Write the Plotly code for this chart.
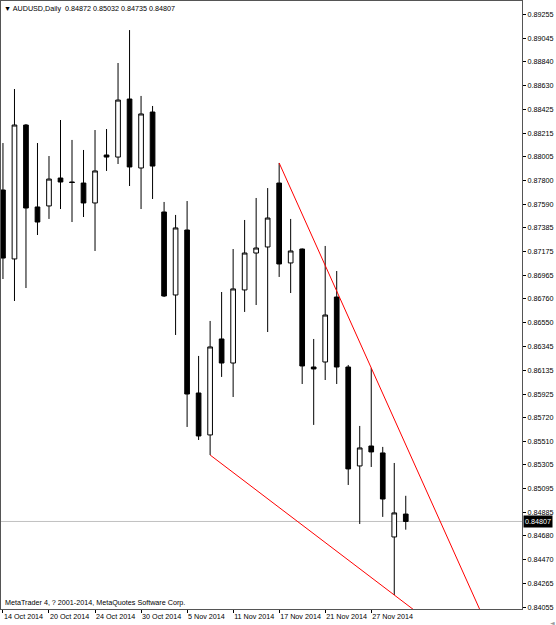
import numpy as np
import plotly.graph_objects as go

# AUDUSD daily bars, 14 Oct 2014 - 2 Dec 2014
dates = ["14 Oct 2014", "15 Oct 2014", "16 Oct 2014", "17 Oct 2014", "20 Oct 2014",
         "21 Oct 2014", "22 Oct 2014", "23 Oct 2014", "24 Oct 2014", "27 Oct 2014",
         "28 Oct 2014", "29 Oct 2014", "30 Oct 2014", "31 Oct 2014", "3 Nov 2014",
         "4 Nov 2014", "5 Nov 2014", "6 Nov 2014", "7 Nov 2014", "10 Nov 2014",
         "11 Nov 2014", "12 Nov 2014", "13 Nov 2014", "14 Nov 2014", "17 Nov 2014",
         "18 Nov 2014", "19 Nov 2014", "20 Nov 2014", "21 Nov 2014", "24 Nov 2014",
         "25 Nov 2014", "26 Nov 2014", "27 Nov 2014", "28 Nov 2014", "1 Dec 2014",
         "2 Dec 2014"]

opens = [0.87715, 0.87110, 0.88285, 0.87566, 0.87575, 0.87820, 0.87785, 0.87776,
         0.87601, 0.88022, 0.88004, 0.88513, 0.87908, 0.88399, 0.87522, 0.86794,
         0.87364, 0.85934, 0.85566, 0.86408, 0.86197, 0.86838, 0.87162, 0.87215,
         0.87776, 0.87075, 0.87197, 0.86162, 0.86206, 0.86776, 0.86162, 0.85294,
         0.85469, 0.85408, 0.84671, 0.84872]
highs = [0.88127, 0.88601, 0.88294, 0.88127, 0.88013, 0.88329, 0.88154, 0.88066,
         0.88241, 0.88250, 0.88829, 0.89118, 0.88540, 0.88452, 0.87610, 0.87496,
         0.87618, 0.86259, 0.86566, 0.86820, 0.87197, 0.87452, 0.87645, 0.87732,
         0.87952, 0.87461, 0.87202, 0.86408, 0.87224, 0.87004, 0.86180, 0.85645,
         0.86154, 0.85461, 0.85320, 0.85032]
lows = [0.86934, 0.86741, 0.86855, 0.87320, 0.87461, 0.87548, 0.87434, 0.87478,
        0.87180, 0.87882, 0.87943, 0.87750, 0.87548, 0.87636, 0.86776, 0.86443,
        0.85636, 0.85522, 0.85390, 0.86075, 0.85899, 0.86645, 0.86706, 0.86469,
        0.86952, 0.86811, 0.86013, 0.85654, 0.86048, 0.86013, 0.85127, 0.84785,
        0.85285, 0.84847, 0.84162, 0.84735]
closes = [0.87118, 0.88285, 0.87557, 0.87434, 0.87811, 0.87785, 0.87781, 0.87601,
          0.87882, 0.88004, 0.88504, 0.87917, 0.88382, 0.87925, 0.86785, 0.87382,
          0.85925, 0.85557, 0.86338, 0.86197, 0.86847, 0.87162, 0.87206, 0.87469,
          0.87066, 0.87180, 0.86171, 0.86145, 0.86618, 0.86162, 0.85268, 0.85452,
          0.85417, 0.85004, 0.84882, 0.84807]

# trend lines: anchor bars (index) and prices, drawn as rays
upper_anchor_x = [24, 32]
upper_anchor_y = [0.87952, 0.86154]
lower_anchor_x = [18, 34]
lower_anchor_y = [0.85390, 0.84162]

price_ticks = [0.89255, 0.89045, 0.88840, 0.88630, 0.88425, 0.88215, 0.88005,
               0.87800, 0.87590, 0.87385, 0.87175, 0.86965, 0.86760, 0.86550,
               0.86345, 0.86135, 0.85925, 0.85720, 0.85510, 0.85305, 0.85095,
               0.84885, 0.84680, 0.84470, 0.84265, 0.84055]
date_tick_idx = [0, 4, 8, 12, 16, 20, 24, 28, 32]

last_price = closes[-1]
FONT = "Liberation Sans"
FS = 7.2

idx = list(range(len(dates)))


def ray(ax, ay, x_end):
    """두 점을 지나는 반직선"""
    slope = (ay[1] - ay[0]) / (ax[1] - ax[0])
    return [ax[0], x_end], [ay[0], ay[0] + slope * (x_end - ax[0])]


fig = go.Figure()

fig.add_trace(go.Candlestick(
    x=idx, open=opens, high=highs, low=lows, close=closes,
    increasing=dict(fillcolor="white", line=dict(color="black", width=1)),
    decreasing=dict(fillcolor="black", line=dict(color="black", width=1)),
    whiskerwidth=0,
    showlegend=False,
    hoverinfo="skip",
))

for ax, ay in [(upper_anchor_x, upper_anchor_y), (lower_anchor_x, lower_anchor_y)]:
    rx, ry = ray(ax, ay, 48)
    fig.add_trace(go.Scatter(x=rx, y=ry, mode="lines",
                             line=dict(color="#ff0000", width=1),
                             showlegend=False, hoverinfo="skip"))

# current price line
fig.add_shape(type="line", xref="paper", x0=0, x1=1, y0=last_price, y1=last_price,
              line=dict(color="#c0c0c0", width=1), layer="below")

fig.add_annotation(xref="paper", yref="y", x=1, y=last_price, xanchor="left",
                   yanchor="middle", xshift=1, text=f"{last_price:.5f}",
                   showarrow=False, bgcolor="black", borderpad=1,
                   font=dict(family=FONT, size=FS, color="white"))

fig.add_annotation(xref="paper", yref="paper", x=0, y=1, xanchor="left",
                   yanchor="top", xshift=1, yshift=-1, showarrow=False,
                   text=f"▼ AUDUSD,Daily  {opens[-1]:.5f} {highs[-1]:.5f} "
                        f"{lows[-1]:.5f} {closes[-1]:.5f}",
                   font=dict(family=FONT, size=FS, color="black"))

fig.add_annotation(xref="paper", yref="paper", x=0, y=0, xanchor="left",
                   yanchor="bottom", xshift=2, yshift=0, showarrow=False,
                   text="MetaTrader 4, ? 2001-2014, MetaQuotes Software Corp.",
                   font=dict(family=FONT, size=FS, color="black"))

# 오른쪽 아래 스크롤 표시
fig.add_annotation(xref="paper", yref="paper", x=1, y=0, xanchor="left",
                   yanchor="top", xshift=26, yshift=-8, showarrow=False,
                   text="◄", font=dict(family="DejaVu Sans", size=6, color="#9a9a9a"))

fig.update_layout(
    width=556, height=625, autosize=False,
    margin=dict(l=1, r=34, t=1, b=16),
    paper_bgcolor="white", plot_bgcolor="white",
    boxgap=0.42,
    showlegend=False,
    font=dict(family=FONT, size=FS, color="black"),
    xaxis=dict(
        range=[-0.17, 45.1], rangeslider=dict(visible=False),
        tickmode="array", tickvals=date_tick_idx,
        ticktext=[dates[i] for i in date_tick_idx],
        ticks="outside", ticklen=3, tickcolor="black", tickangle=0,
        ticklabelposition="outside right", automargin=False,
        showgrid=False, zeroline=False,
        showline=True, linecolor="#555555", linewidth=1, mirror=True,
        tickfont=dict(family=FONT, size=FS, color="black"),
    ),
    yaxis=dict(
        side="right", range=[0.84039, 0.89373], automargin=False,
        tickmode="array", tickvals=price_ticks,
        ticktext=[f"{v:.5f}" for v in price_ticks],
        ticks="outside", ticklen=3, tickcolor="black",
        showgrid=False, zeroline=False,
        showline=True, linecolor="#555555", linewidth=1, mirror=True,
        tickfont=dict(family=FONT, size=FS, color="black"),
    ),
)

# 브라우저 기본 body 여백 제거
fig.write_html("out.html", config={"displayModeBar": False},
               post_script="document.body.style.margin='0';")
